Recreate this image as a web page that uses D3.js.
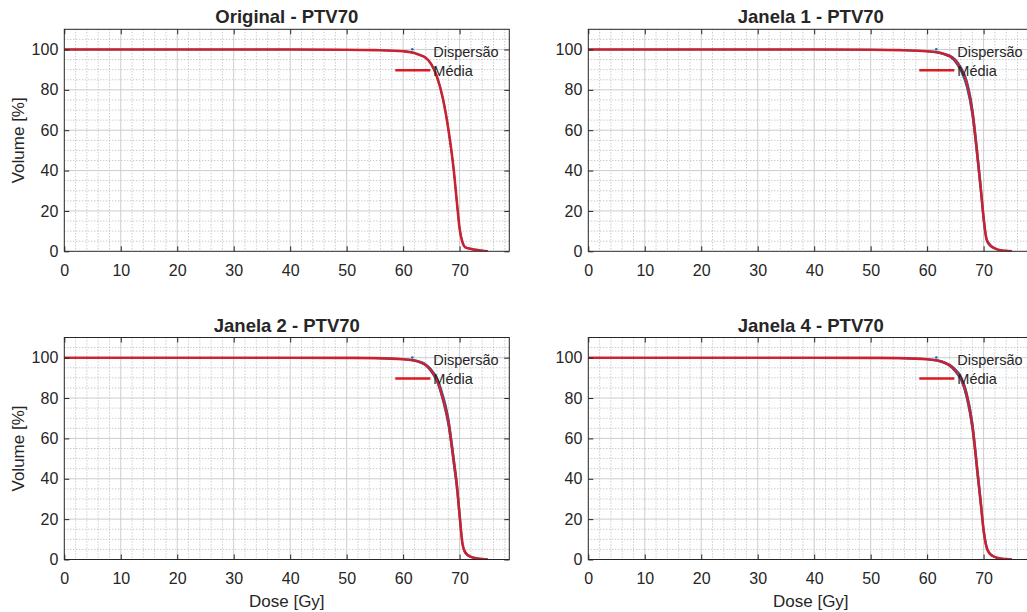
<!DOCTYPE html>
<html>
<head>
<meta charset="utf-8">
<script src="https://cdn.jsdelivr.net/npm/d3@7"></script>
<style>
  body { margin: 0; background: #fff; overflow: hidden; }
  svg { display: block; }
  text { font-family: "Liberation Sans", Arial, sans-serif; fill: #262626; }
</style>
</head>
<body>
<div id="chart"></div>
<script>
// dose grid (Gy) shared by all curves
var dose = [0, 10, 20, 30, 40, 50, 55, 60, 62, 63, 64, 65, 66, 67, 68, 69, 69.5, 70, 70.5, 71, 72, 73, 74, 75];

// mean DVH (Média) per panel, volume in %
var volOriginal = [100, 100, 100, 100, 100, 99.9, 99.7, 99.1, 98.3, 97.2, 95.9, 92.6, 86.4, 76.2, 60.7, 39.3, 24.9, 11.3, 4.5, 2.0, 1.2, 0.7, 0.3, 0];
var volJanela1  = [100, 100, 100, 100, 100, 99.9, 99.7, 99.1, 98.5, 97.8, 96.7, 94.5, 90.3, 83.4, 69.4, 44.8, 31.0, 16.5, 6.2, 3.5, 1.4, 0.5, 0.2, 0];
var volJanela2  = [100, 100, 100, 100, 100, 99.9, 99.8, 99.2, 98.6, 97.8, 96.4, 93.5, 89.0, 80.5, 68.5, 48.0, 37.0, 22.0, 8.0, 3.5, 1.3, 0.6, 0.2, 0];
var volJanela4  = [100, 100, 100, 100, 100, 99.9, 99.8, 99.2, 98.5, 97.6, 96.2, 93.6, 89.8, 81.5, 66.5, 41.0, 28.0, 14.5, 6.4, 3.2, 1.2, 0.5, 0.2, 0];

// dispersion envelope (Dispersão): lowest and highest individual curves
var dispLoOriginal = [100, 100, 100, 100, 100, 99.9, 99.7, 99.1, 98.3, 97.1, 95.8, 92.4, 86.1, 75.8, 60.2, 38.8, 24.4, 11.0, 4.3, 1.9, 1.1, 0.6, 0.2, 0];
var dispHiOriginal = [100, 100, 100, 100, 100, 99.9, 99.7, 99.1, 98.3, 97.3, 96.0, 92.8, 86.7, 76.6, 61.2, 39.8, 25.4, 11.6, 4.7, 2.1, 1.3, 0.8, 0.4, 0.05];
var dispLoJanela1 = [100, 100, 100, 100, 100, 99.9, 99.6, 99.0, 98.3, 97.5, 96.3, 93.7, 89.0, 81.4, 67.0, 42.4, 29.0, 14.8, 5.6, 3.1, 1.2, 0.4, 0.1, 0];
var dispHiJanela1 = [100, 100, 100, 100, 100, 100, 99.8, 99.2, 98.7, 98.0, 97.1, 95.1, 91.3, 85.0, 71.5, 47.2, 33.0, 18.2, 6.9, 3.9, 1.6, 0.6, 0.3, 0.05];
var dispLoJanela2 = [100, 100, 100, 100, 100, 99.9, 99.7, 99.1, 98.4, 97.5, 96.0, 92.8, 87.9, 78.8, 66.2, 45.8, 34.8, 20.0, 7.2, 3.1, 1.1, 0.5, 0.1, 0];
var dispHiJanela2 = [100, 100, 100, 100, 100, 100, 99.9, 99.3, 98.8, 98.1, 96.8, 94.2, 90.1, 82.2, 70.8, 50.2, 39.2, 24.0, 8.8, 3.9, 1.5, 0.7, 0.3, 0.05];
var dispLoJanela4 = [100, 100, 100, 100, 100, 99.9, 99.7, 99.1, 98.3, 97.3, 95.8, 92.9, 88.7, 79.8, 64.2, 38.8, 26.0, 13.0, 5.7, 2.9, 1.1, 0.4, 0.1, 0];
var dispHiJanela4 = [100, 100, 100, 100, 100, 100, 99.9, 99.3, 98.7, 97.9, 96.6, 94.3, 90.9, 83.2, 68.8, 43.2, 30.0, 16.0, 7.1, 3.5, 1.4, 0.6, 0.3, 0.05];

var titles = ["Original - PTV70", "Janela 1 - PTV70", "Janela 2 - PTV70", "Janela 4 - PTV70"];
var xTicks = [0, 10, 20, 30, 40, 50, 60, 70];
var yTicks = [0, 20, 40, 60, 80, 100];
var legendLabels = ["Dispersão", "Média"];

var panels = [
  {left: 64.3,  top: 29.3,  title: titles[0], mean: volOriginal, lo: dispLoOriginal, hi: dispHiOriginal, ylab: true,  xlab: false},
  {left: 588.3, top: 29.3,  title: titles[1], mean: volJanela1,  lo: dispLoJanela1,  hi: dispHiJanela1,  ylab: false, xlab: false},
  {left: 64.3,  top: 337.5, title: titles[2], mean: volJanela2,  lo: dispLoJanela2,  hi: dispHiJanela2,  ylab: true,  xlab: true},
  {left: 588.3, top: 337.5, title: titles[3], mean: volJanela4,  lo: dispLoJanela4,  hi: dispHiJanela4,  ylab: false, xlab: true}
];

var width = 445, height = 222;
var red = "#dc1a22", blue = "#0072bd";

var svg = d3.select("#chart")
  .append("svg")
  .attr("width", 1027)
  .attr("height", 612);

var x = d3.scaleLinear().domain([0, 78.8]).range([0, width]);
var y = d3.scaleLinear().domain([0, 110]).range([height, 0]);

var line = function (vals) {
  return d3.line()
    .x(function (d, i) { return x(dose[i]); })
    .y(function (d) { return y(d); })
    .curve(d3.curveMonotoneX)(vals);
};

svg.append("defs").append("clipPath").attr("id", "plotclip")
  .append("rect").attr("width", width).attr("height", height);

panels.forEach(function (p, k) {
  var g = svg.append("g").attr("transform", "translate(" + p.left + "," + p.top + ")");

  // minor grid (dotted)
  g.append("g").selectAll("line")
    .data(d3.range(0, 79, 2).filter(function (v) { return v % 10 !== 0; }))
    .enter().append("line")
    .attr("x1", function (d) { return x(d); }).attr("x2", function (d) { return x(d); })
    .attr("y1", 0).attr("y2", height)
    .attr("stroke", "#b4b4b4").attr("stroke-width", 1).attr("stroke-dasharray", "1,2");
  g.append("g").selectAll("line")
    .data(d3.range(5, 110, 5).filter(function (v) { return v % 20 !== 0; }))
    .enter().append("line")
    .attr("y1", function (d) { return y(d); }).attr("y2", function (d) { return y(d); })
    .attr("x1", 0).attr("x2", width)
    .attr("stroke", "#b4b4b4").attr("stroke-width", 1).attr("stroke-dasharray", "1,2");

  // major grid
  g.append("g").selectAll("line")
    .data(xTicks.slice(1))
    .enter().append("line")
    .attr("x1", function (d) { return x(d); }).attr("x2", function (d) { return x(d); })
    .attr("y1", 0).attr("y2", height)
    .attr("stroke", "#cdcdcd").attr("stroke-width", 1);
  g.append("g").selectAll("line")
    .data(yTicks.slice(1))
    .enter().append("line")
    .attr("y1", function (d) { return y(d); }).attr("y2", function (d) { return y(d); })
    .attr("x1", 0).attr("x2", width)
    .attr("stroke", "#cdcdcd").attr("stroke-width", 1);

  // curves
  var curves = g.append("g").attr("clip-path", "url(#plotclip)");
  [p.lo, p.hi].forEach(function (vals) {
    curves.append("path")
      .attr("d", line(vals))
      .attr("fill", "none")
      .attr("stroke", blue)
      .attr("stroke-width", 1.6);
  });
  curves.append("path")
    .attr("d", line(p.mean))
    .attr("fill", "none")
    .attr("stroke", red)
    .attr("stroke-opacity", 0.9)
    .attr("stroke-width", 2.6);

  // axes (inward ticks, MATLAB style)
  var xb = g.append("g").attr("transform", "translate(0," + height + ")")
    .call(d3.axisBottom(x).tickValues(xTicks).tickSizeInner(-5).tickSizeOuter(0).tickPadding(13));
  var yl = g.append("g")
    .call(d3.axisLeft(y).tickValues(yTicks).tickSizeInner(-5).tickSizeOuter(0).tickPadding(6));
  var xt = g.append("g")
    .call(d3.axisTop(x).tickValues(xTicks).tickSizeInner(-5).tickSizeOuter(0).tickFormat(""));
  var yr = g.append("g").attr("transform", "translate(" + width + ",0)")
    .call(d3.axisRight(y).tickValues(yTicks).tickSizeInner(-5).tickSizeOuter(0).tickFormat(""));
  [xb, yl, xt, yr].forEach(function (a) {
    a.select(".domain").remove();
    a.selectAll("line").attr("stroke", "#262626");
    a.selectAll("text").attr("font-size", "16px").attr("fill", "#333")
      .style("font-family", "'Liberation Sans', Arial, sans-serif");
  });

  // box
  g.append("rect")
    .attr("width", width).attr("height", height)
    .attr("fill", "none").attr("stroke", "#262626").attr("stroke-width", 1);

  // legend
  g.append("circle")
    .attr("cx", 348).attr("cy", 20)
    .attr("r", 1.3).attr("fill", blue);
  g.append("line")
    .attr("x1", 331).attr("x2", 366).attr("y1", 41).attr("y2", 41)
    .attr("stroke", red).attr("stroke-width", 2.6);
  g.append("text").attr("x", 369).attr("y", 27.5)
    .attr("font-size", "14.5px").text(legendLabels[0]);
  g.append("text").attr("x", 369).attr("y", 46.5)
    .attr("font-size", "14.5px").text(legendLabels[1]);

  // title
  g.append("text")
    .attr("x", width / 2).attr("y", -6)
    .attr("text-anchor", "middle")
    .attr("font-size", "18.5px").attr("font-weight", "bold")
    .attr("fill", "#000")
    .text(p.title);

  if (p.ylab) {
    g.append("text")
      .attr("transform", "rotate(-90)")
      .attr("x", -height / 2).attr("y", -p.left + 24)
      .attr("text-anchor", "middle")
      .attr("font-size", "17px").attr("fill", "#333")
      .text("Volume [%]");
  }
  if (p.xlab) {
    g.append("text")
      .attr("x", width / 2).attr("y", height + 47)
      .attr("text-anchor", "middle")
      .attr("font-size", "17px").attr("fill", "#333")
      .text("Dose [Gy]");
  }
});
</script>
</body>
</html>
